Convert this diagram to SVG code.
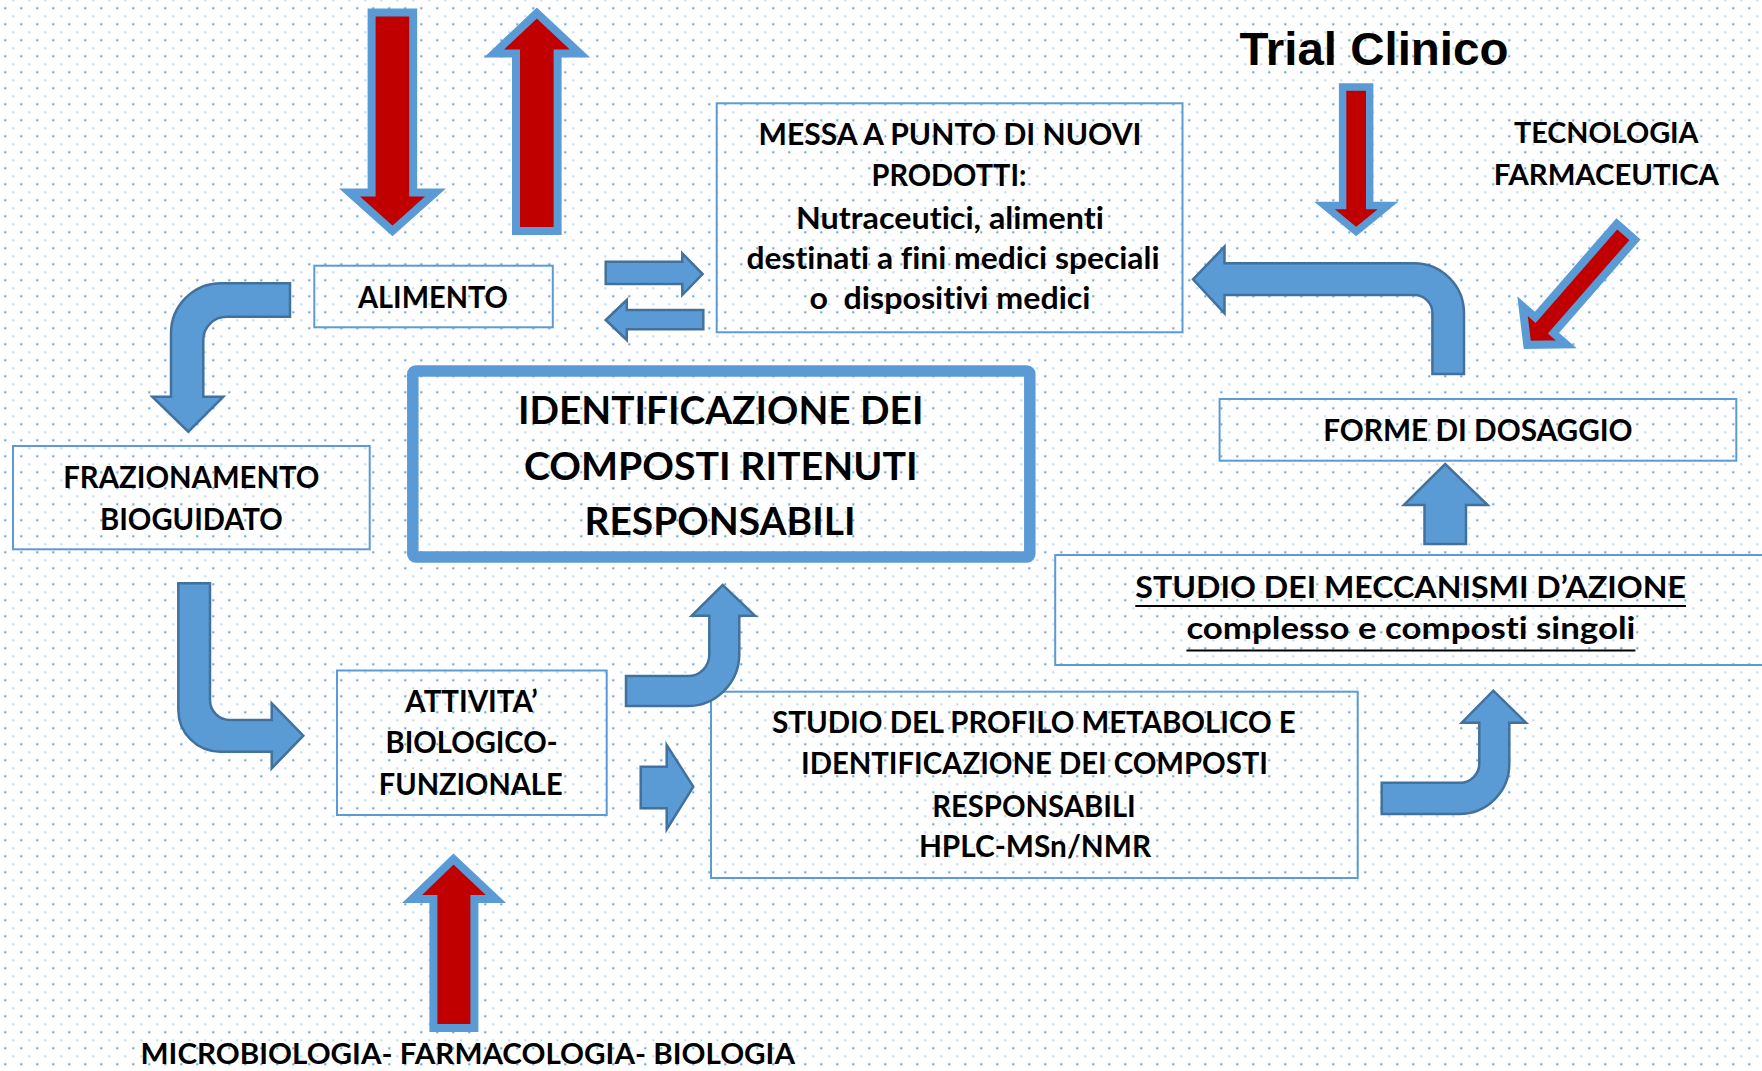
<svg xmlns="http://www.w3.org/2000/svg" width="1762" height="1071" viewBox="0 0 1762 1071">
<defs>
<pattern id="dots" x="1.3" y="-3.7" width="16" height="16" patternUnits="userSpaceOnUse">
<circle cx="4" cy="12" r="1.2" fill="#5b9bd5" fill-opacity="0.9"/>
<ellipse cx="12" cy="4" rx="1.15" ry="0.75" fill="#5b9bd5" fill-opacity="0.65"/>
</pattern>
<style>
.box{fill:none;stroke:#5b9bd5;stroke-width:2}
.big{fill:none;stroke:#5b9bd5;stroke-width:11.5}
.t{font-family:Lato,"Liberation Sans",Arial,sans-serif;font-weight:700;font-size:30px;fill:#000;text-anchor:middle;font-variant-ligatures:none;font-feature-settings:"liga" 0,"clig" 0,"dlig" 0}
.ul{stroke:#000;stroke-width:2}
.blue{fill:#5b9bd5;stroke:#41719c;stroke-width:2.5;stroke-linejoin:miter}
.red{fill:#c00000;stroke:#5b9bd5;stroke-width:8;stroke-linejoin:miter;stroke-miterlimit:10}
</style>
</defs>
<rect width="1762" height="1071" fill="#ffffff"/>
<rect width="1762" height="1071" fill="url(#dots)"/>

<g id="alimento">
<rect class="box" x="314.3" y="265.7" width="238.5" height="61.6"/>
<text class="t" x="433" y="308.3" textLength="150" lengthAdjust="spacingAndGlyphs">ALIMENTO</text>
</g>

<g id="messa-a-punto">
<rect class="box" x="716.7" y="103.3" width="465.8" height="229"/>
<text class="t" x="950" y="144.5" textLength="383" lengthAdjust="spacingAndGlyphs">MESSA A PUNTO DI NUOVI</text>
<text class="t" x="949" y="185.5" textLength="155" lengthAdjust="spacingAndGlyphs">PRODOTTI:</text>
<text class="t" x="950" y="229" textLength="308" lengthAdjust="spacingAndGlyphs">Nutraceutici, alimenti</text>
<text class="t" x="953" y="269.3" textLength="413" lengthAdjust="spacingAndGlyphs">destinati a fini medici speciali</text>
<text class="t" x="950" y="308.5" textLength="281" lengthAdjust="spacingAndGlyphs" xml:space="preserve" style="white-space:pre">o  dispositivi medici</text>
</g>

<g id="trial-clinico">
<text x="1239.4" y="65" textLength="269" lengthAdjust="spacingAndGlyphs" style="font-family:'Liberation Sans',Arial,sans-serif;font-weight:700;font-size:47px;fill:#000">Trial Clinico</text>
</g>

<g id="tecnologia-farmaceutica">
<text class="t" x="1606.3" y="143.3" textLength="184.6" lengthAdjust="spacingAndGlyphs" style="font-size:29px">TECNOLOGIA</text>
<text class="t" x="1606.3" y="185" textLength="225.3" lengthAdjust="spacingAndGlyphs" style="font-size:29px">FARMACEUTICA</text>
</g>

<g id="forme-di-dosaggio">
<rect class="box" x="1219.6" y="399" width="516.7" height="61.7"/>
<text class="t" x="1477.9" y="440.7" textLength="309.4" lengthAdjust="spacingAndGlyphs">FORME DI DOSAGGIO</text>
</g>

<g id="identificazione">
<rect class="big" x="412.8" y="370.9" width="617" height="186.1" rx="3"/>
<text class="t" x="720.7" y="424" textLength="405.4" lengthAdjust="spacingAndGlyphs" style="font-size:38px">IDENTIFICAZIONE DEI</text>
<text class="t" x="720.8" y="479.5" textLength="393.6" lengthAdjust="spacingAndGlyphs" style="font-size:38px">COMPOSTI RITENUTI</text>
<text class="t" x="720" y="534.5" textLength="271.2" lengthAdjust="spacingAndGlyphs" style="font-size:38px">RESPONSABILI</text>
</g>

<g id="frazionamento">
<rect class="box" x="13" y="446" width="356.7" height="103.3"/>
<text class="t" x="191.4" y="488.3" textLength="256.2" lengthAdjust="spacingAndGlyphs">FRAZIONAMENTO</text>
<text class="t" x="191.4" y="530" textLength="182.7" lengthAdjust="spacingAndGlyphs">BIOGUIDATO</text>
</g>

<g id="meccanismi">
<rect class="box" x="1055.2" y="555" width="760" height="110"/>
<text class="t" x="1410.7" y="598.3" textLength="550.7" lengthAdjust="spacingAndGlyphs">STUDIO DEI MECCANISMI D’AZIONE</text>
<line class="ul" x1="1135.3" y1="606" x2="1686" y2="606"/>
<text class="t" x="1410.9" y="639.3" textLength="449" lengthAdjust="spacingAndGlyphs">complesso e composti singoli</text>
<line class="ul" x1="1186.4" y1="650.5" x2="1635.4" y2="650.5"/>
</g>

<g id="attivita">
<rect class="box" x="337" y="670.5" width="269.7" height="144.5"/>
<text class="t" x="471.5" y="711.7" textLength="132.4" lengthAdjust="spacingAndGlyphs">ATTIVITA’</text>
<text class="t" x="471.5" y="753.3" textLength="172" lengthAdjust="spacingAndGlyphs">BIOLOGICO-</text>
<text class="t" x="470.7" y="795" textLength="183.7" lengthAdjust="spacingAndGlyphs">FUNZIONALE</text>
</g>

<g id="profilo-metabolico">
<rect class="box" x="711" y="691.7" width="646.7" height="186.3"/>
<text class="t" x="1034" y="733" textLength="523.4" lengthAdjust="spacingAndGlyphs">STUDIO DEL PROFILO METABOLICO E</text>
<text class="t" x="1034.5" y="774" textLength="467" lengthAdjust="spacingAndGlyphs">IDENTIFICAZIONE DEI COMPOSTI</text>
<text class="t" x="1034" y="816.6" textLength="203.6" lengthAdjust="spacingAndGlyphs">RESPONSABILI</text>
<text class="t" x="1035" y="857" textLength="232.2" lengthAdjust="spacingAndGlyphs">HPLC-MSn/NMR</text>
</g>

<g id="discipline">
<text class="t" x="467.8" y="1064" textLength="654.4" lengthAdjust="spacingAndGlyphs" style="font-size:29px">MICROBIOLOGIA- FARMACOLOGIA- BIOLOGIA</text>
</g>

<g id="connectors">
<path class="red" d="M371.6,12.5 L413.2,12.5 L413.2,192.5 L435.5,192.5 L392.5,231 L349.5,192.5 L371.6,192.5 Z"/>
<path class="red" d="M516,231 L557.6,231 L557.6,53.5 L580,53.5 L536.8,13 L494,53.5 L516,53.5 Z"/>
<path class="red" style="stroke-width:7.4" d="M1342.6,87 L1369.7,87 L1369.7,205.5 L1388,205.5 L1356.2,231.5 L1324.5,205.5 L1342.6,205.5 Z"/>
<path class="red" transform="translate(1628.5,228.8) rotate(41.1)" d="M-12.1,4 L12.1,4 L12.1,128 L29,128 L0,154 L-29,128 L-12.1,128 Z"/>
<path class="red" d="M433.4,1028 L474.4,1028 L474.4,899 L496,899 L453.5,859 L412,899 L433.4,899 Z"/>
<path class="blue" d="M605.7,261.7 L682.3,261.7 L682.3,253.3 L702.6,274 L682.3,295 L682.3,284 L605.7,284 Z"/>
<path class="blue" d="M703.3,310 L626.8,310 L626.8,300 L605.7,320 L626.8,340 L626.8,329.3 L703.3,329.3 Z"/>
<path class="blue" d="M1193,279.3 L1224.5,246.7 L1224.5,263.3 L1414,263.3 A50,50 0 0 1 1464,313.3 L1464,374 L1432.4,374 L1432.4,313 A18,18 0 0 0 1414.4,295 L1224.5,295 L1224.5,313.3 Z"/>
<path class="blue" d="M290,283.3 L221,283.3 A50,50 0 0 0 171,333.3 L171,396.7 L152.3,396.7 L188.3,431.7 L223.3,396.7 L203.3,396.7 L203.3,340 A23.3,23.3 0 0 1 226.6,316.7 L290,316.7 Z"/>
<path class="blue" d="M178.3,583.3 L210,583.3 L210,700 A20,20 0 0 0 230,720 L271.7,720 L271.7,703.3 L303.3,735.7 L271.7,768.3 L271.7,751.7 L220,751.7 A41.7,41.7 0 0 1 178.3,710 Z"/>
<path class="blue" d="M626,676 L688,676 A21.3,21.3 0 0 0 709.3,654.7 L709.3,615.7 L691.7,615.7 L722.7,585 L755,615.7 L739.3,615.7 L739.3,654 A52,52 0 0 1 687.3,706 L626,706 Z"/>
<path class="blue" d="M640.7,766.7 L666.7,766.7 L666.7,745 L693.3,786.7 L666.7,829.3 L666.7,808.3 L640.7,808.3 Z"/>
<path class="blue" d="M1381.7,782.7 L1460,782.7 A19.3,19.3 0 0 0 1479.3,763.4 L1479.3,722.7 L1461.7,722.7 L1493.3,690.7 L1526,722.7 L1509.3,722.7 L1509.3,764 A50,50 0 0 1 1459.3,814 L1381.7,814 Z"/>
<path class="blue" d="M1424.5,544 L1424.5,505 L1403.8,505 L1445.2,464 L1487.6,505 L1466,505 L1466,544 Z"/>
</g>
</svg>
